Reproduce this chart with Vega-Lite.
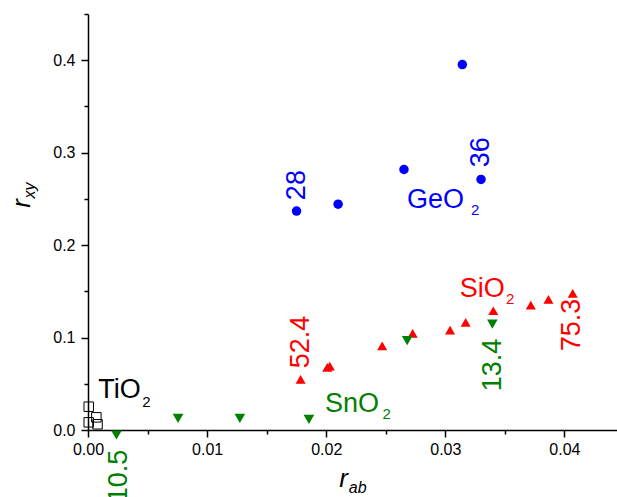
{
  "$schema": "https://vega.github.io/schema/vega-lite/v6.json",
  "autosize": {"type": "none"},
  "padding": {"left": 88, "top": 14, "right": 0, "bottom": 67},
  "width": 530,
  "height": 416,
  "background": "white",
  "config": {"view": {"stroke": null}, "text": {"font": "Liberation Sans"}},
  "datasets": {
    "points": [
      {"material": "GeO2", "rab": 0.01751, "rxy": 0.2368},
      {"material": "GeO2", "rab": 0.0210, "rxy": 0.2443},
      {"material": "GeO2", "rab": 0.02653, "rxy": 0.2818},
      {"material": "GeO2", "rab": 0.03143, "rxy": 0.3953},
      {"material": "GeO2", "rab": 0.0330, "rxy": 0.2710},
      {"material": "SiO2", "rab": 0.01785, "rxy": 0.0548},
      {"material": "SiO2", "rab": 0.02009, "rxy": 0.0678},
      {"material": "SiO2", "rab": 0.0203, "rxy": 0.0692},
      {"material": "SiO2", "rab": 0.0247, "rxy": 0.0911},
      {"material": "SiO2", "rab": 0.02726, "rxy": 0.1045},
      {"material": "SiO2", "rab": 0.0304, "rxy": 0.1081},
      {"material": "SiO2", "rab": 0.03171, "rxy": 0.1164},
      {"material": "SiO2", "rab": 0.03403, "rxy": 0.1290},
      {"material": "SiO2", "rab": 0.03718, "rxy": 0.1351},
      {"material": "SiO2", "rab": 0.03866, "rxy": 0.1413},
      {"material": "SiO2", "rab": 0.0407, "rxy": 0.1478},
      {"material": "SnO2", "rab": 0.00239, "rxy": -0.0054},
      {"material": "SnO2", "rab": 0.00756, "rxy": 0.0126},
      {"material": "SnO2", "rab": 0.01275, "rxy": 0.0126},
      {"material": "SnO2", "rab": 0.01855, "rxy": 0.0115},
      {"material": "SnO2", "rab": 0.0268, "rxy": 0.0966},
      {"material": "SnO2", "rab": 0.03395, "rxy": 0.1146},
      {"material": "TiO2", "rab": 0.00006, "rxy": 0.0252},
      {"material": "TiO2", "rab": 0.00006, "rxy": 0.0083},
      {"material": "TiO2", "rab": 0.0007, "rxy": 0.0137},
      {"material": "TiO2", "rab": 0.0008, "rxy": 0.0062}
    ],
    "numbers": [
      {"material": "GeO2", "label": "28", "rab": 0.01754, "rxy": 0.2649},
      {"material": "GeO2", "label": "36", "rab": 0.0330, "rxy": 0.3005},
      {"material": "SiO2", "label": "52.4", "rab": 0.01787, "rxy": 0.0951},
      {"material": "SiO2", "label": "75.3", "rab": 0.04065, "rxy": 0.1135},
      {"material": "SnO2", "label": "10.5", "rab": 0.00258, "rxy": -0.0497},
      {"material": "SnO2", "label": "13.4", "rab": 0.0340, "rxy": 0.0703}
    ],
    "names": [
      {"material": "GeO2", "label": "GeO", "rab": 0.03157, "rxy": 0.2400},
      {"material": "SiO2", "label": "SiO", "rab": 0.03500, "rxy": 0.1438},
      {"material": "SnO2", "label": "SnO", "rab": 0.02443, "rxy": 0.01946},
      {"material": "TiO2", "label": "TiO", "rab": 0.00443, "rxy": 0.0346}
    ],
    "subs": [
      {"material": "GeO2", "label": "2", "rab": 0.03216, "rxy": 0.2324},
      {"material": "SiO2", "label": "2", "rab": 0.03510, "rxy": 0.1368},
      {"material": "SnO2", "label": "2", "rab": 0.02472, "rxy": 0.01243},
      {"material": "TiO2", "label": "2", "rab": 0.00455, "rxy": 0.0252}
    ]
  },
  "encoding": {
    "x": {"field": "rab", "type": "quantitative", "scale": {"domain": [0, 0.0445], "nice": false, "zero": false}},
    "y": {"field": "rxy", "type": "quantitative", "scale": {"domain": [0, 0.45], "nice": false, "zero": false}},
    "color": {
      "field": "material", "type": "nominal", "legend": null,
      "scale": {"domain": ["GeO2", "SiO2", "SnO2", "TiO2"], "range": ["#0000ff", "#ff0000", "#008000", "#000000"]}
    }
  },
  "resolve": {"axis": {"x": "independent", "y": "independent"}},
  "layer": [
    {
      "data": {"name": "points"},
      "transform": [{"filter": "datum.material !== 'TiO2'"}],
      "mark": {"type": "point", "filled": true, "opacity": 1},
      "encoding": {
        "x": {"field": "rab", "type": "quantitative", "axis": {"orient": "bottom", "values": [0, 0.01, 0.02, 0.03, 0.04], "format": ".2f", "tickSize": 7, "tickWidth": 1.5, "tickColor": "black", "domainColor": "black", "domainWidth": 1.5, "labelFont": "Liberation Sans", "labelFontSize": 16, "labelColor": "black", "labelPadding": 4, "grid": false, "title": null, "labelFlush": false}},
        "y": {"field": "rxy", "type": "quantitative", "axis": {"orient": "left", "values": [0, 0.1, 0.2, 0.3, 0.4], "format": ".1f", "tickSize": 7, "tickWidth": 1.5, "tickColor": "black", "domainColor": "black", "domainWidth": 1.5, "labelFont": "Liberation Sans", "labelFontSize": 16, "labelColor": "black", "labelPadding": 6, "grid": false, "title": null, "labelFlush": false}},
        "shape": {"field": "material", "type": "nominal", "legend": null, "scale": {"domain": ["GeO2", "SiO2", "SnO2", "TiO2"], "range": ["circle", "triangle-up", "triangle-down", "square"]}},
        "size": {"field": "material", "type": "nominal", "legend": null, "scale": {"domain": ["GeO2", "SiO2", "SnO2", "TiO2"], "range": [90, 125, 125, 81]}}
      }
    },
    {
      "data": {"name": "points"},
      "transform": [{"filter": "datum.material === 'TiO2'"}],
      "mark": {"type": "square", "filled": false, "size": 90, "strokeWidth": 1, "opacity": 1},
      "encoding": {
        "x": {"field": "rab", "type": "quantitative", "axis": {"orient": "bottom", "values": [0.005, 0.015, 0.025, 0.035], "tickSize": 4, "tickWidth": 1.5, "tickColor": "black", "labels": false, "domain": false, "grid": false, "title": null}},
        "y": {"field": "rxy", "type": "quantitative", "axis": {"orient": "left", "values": [0.05, 0.15, 0.25, 0.35, 0.45], "tickSize": 4, "tickWidth": 1.5, "tickColor": "black", "labels": false, "domain": false, "grid": false, "title": null}}
      }
    },
    {
      "data": {"name": "numbers"},
      "mark": {"type": "text", "angle": 270, "align": "center", "baseline": "middle", "fontSize": 27},
      "encoding": {
        "x": {"field": "rab", "type": "quantitative", "axis": null},
        "y": {"field": "rxy", "type": "quantitative", "axis": null},
        "text": {"field": "label"}
      }
    },
    {
      "data": {"name": "names"},
      "mark": {"type": "text", "align": "right", "baseline": "alphabetic", "fontSize": 27},
      "encoding": {
        "x": {"field": "rab", "type": "quantitative", "axis": null},
        "y": {"field": "rxy", "type": "quantitative", "axis": null},
        "text": {"field": "label"}
      }
    },
    {
      "data": {"name": "subs"},
      "mark": {"type": "text", "align": "left", "baseline": "alphabetic", "fontSize": 15},
      "encoding": {
        "x": {"field": "rab", "type": "quantitative", "axis": null},
        "y": {"field": "rxy", "type": "quantitative", "axis": null},
        "text": {"field": "label"}
      }
    },
    {
      "data": {"values": [{"label": "r", "rab": 0.02182, "rxy": -0.0616}]},
      "mark": {"type": "text", "align": "right", "baseline": "alphabetic", "fontSize": 26, "fontStyle": "italic"},
      "encoding": {
        "x": {"field": "rab", "type": "quantitative", "axis": null},
        "y": {"field": "rxy", "type": "quantitative", "axis": null},
        "text": {"field": "label"},
        "color": {"value": "black"}
      }
    },
    {
      "data": {"values": [{"label": "ab", "rab": 0.02190, "rxy": -0.0616}]},
      "mark": {"type": "text", "align": "left", "baseline": "alphabetic", "fontSize": 16, "fontStyle": "italic", "dy": 6},
      "encoding": {
        "x": {"field": "rab", "type": "quantitative", "axis": null},
        "y": {"field": "rxy", "type": "quantitative", "axis": null},
        "text": {"field": "label"},
        "color": {"value": "black"}
      }
    },
    {
      "data": {"values": [{"label": "r", "rab": -0.0049, "rxy": 0.2497}]},
      "mark": {"type": "text", "angle": 270, "align": "right", "baseline": "alphabetic", "fontSize": 26, "fontStyle": "italic"},
      "encoding": {
        "x": {"field": "rab", "type": "quantitative", "axis": null},
        "y": {"field": "rxy", "type": "quantitative", "axis": null},
        "text": {"field": "label"},
        "color": {"value": "black"}
      }
    },
    {
      "data": {"values": [{"label": "xy", "rab": -0.0049, "rxy": 0.2505}]},
      "mark": {"type": "text", "angle": 270, "align": "left", "baseline": "alphabetic", "fontSize": 16, "fontStyle": "italic", "dy": 5},
      "encoding": {
        "x": {"field": "rab", "type": "quantitative", "axis": null},
        "y": {"field": "rxy", "type": "quantitative", "axis": null},
        "text": {"field": "label"},
        "color": {"value": "black"}
      }
    }
  ]
}
